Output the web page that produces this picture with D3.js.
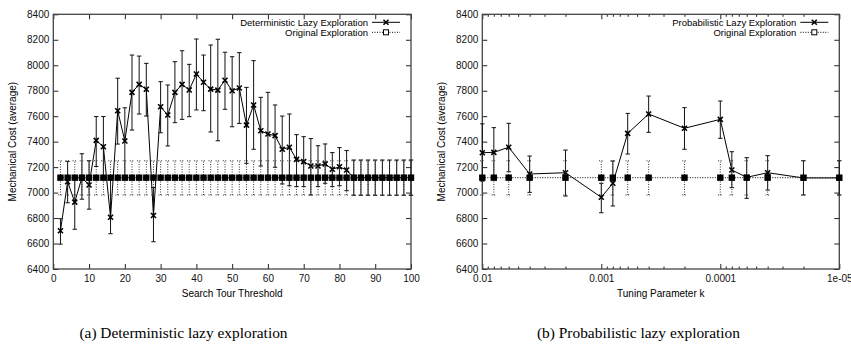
<!DOCTYPE html>
<html>
<head>
	<meta charset="utf-8">
	<title>Lazy exploration: mechanical cost</title>
	<style>
		html, body {
			margin: 0;
			padding: 0;
			background: #fff;
		}
		svg {
			display: block;
			font-family: 'Liberation Sans', Arial, Helvetica, sans-serif;
		}
		.caption {
			font-family: 'Liberation Serif', 'Times New Roman', serif;
			font-size: 15.4px;
		}
		.axis path { display: none; }
		.axis line { stroke: #222; }
		.axis text { font-size: 10px; fill: #111; }
	</style>
</head>
<body>
	<svg id="chart" width="851" height="345"></svg>

	<script src="https://cdnjs.cloudflare.com/ajax/libs/d3/7.8.5/d3.min.js"></script>
	<script>
		// ---- data (a): deterministic lazy exploration ----
		var detX = [2, 4, 6, 8, 10, 12, 14, 16, 18, 20, 22, 24, 26, 28, 30, 32, 34, 36, 38, 40,
			42, 44, 46, 48, 50, 52, 54, 56, 58, 60, 62, 64, 66, 68, 70, 72, 74, 76, 78, 80,
			82, 84, 86, 88, 90, 92, 94, 96, 98, 100];
		var detMean = [6700, 7085, 6925, 7118, 7060, 7410, 7360, 6806, 7643, 7405, 7787, 7850, 7811, 6820, 7674, 7609, 7787, 7850, 7806, 7931,
			7866, 7812, 7805, 7882, 7800, 7821, 7530, 7688, 7486, 7460, 7447, 7340, 7356, 7261, 7243, 7209, 7209, 7225, 7183, 7203,
			7177, 7117, 7117, 7117, 7117, 7117, 7117, 7117, 7117, 7117];
		var detLow = [6595, 6920, 6712, 6948, 6870, 7205, 7112, 6677, 7381, 7127, 7491, 7617, 7601, 6614, 7470, 7366, 7549, 7575, 7596, 7649,
			7643, 7476, 7407, 7654, 7517, 7543, 7230, 7340, 7209, 7125, 7199, 7068, 7054, 7047, 7047, 6981, 7047, 7073, 7047, 7054,
			7015, 6979, 6979, 6979, 6979, 6979, 6979, 6979, 6979, 6979];
		var detHigh = [6795, 7245, 7130, 7305, 7250, 7597, 7597, 7115, 7898, 7666, 8080, 8072, 8015, 7040, 7871, 7845, 8028, 8114, 8007, 8206,
			8080, 8159, 8204, 8102, 8067, 8099, 7826, 8036, 7748, 7787, 7688, 7601, 7617, 7455, 7439, 7424, 7368, 7382, 7314, 7353,
			7330, 7256, 7256, 7256, 7256, 7256, 7256, 7256, 7256, 7256];

		// ---- data (b): probabilistic lazy exploration ----
		var probK = [0.01, 0.008, 0.006, 0.004, 0.002, 0.001, 0.0008, 0.0006, 0.0004, 0.0002,
			0.0001, 0.00008, 0.00006, 0.00004, 0.00002, 0.00001];
		var probMean = [7313, 7316, 7356, 7146, 7156, 6963, 7073, 7465, 7617, 7505, 7575, 7177, 7120, 7156, 7115, 7115];
		var probLow = [7090, 7120, 7164, 7002, 6973, 6842, 6895, 7303, 7473, 7340, 7426, 7039, 6955, 7020, 6981, 6981];
		var probHigh = [7540, 7510, 7544, 7287, 7334, 7073, 7248, 7622, 7758, 7667, 7719, 7321, 7274, 7290, 7250, 7250];

		// ---- original exploration (same at every x) ----
		var origMean = 7117;
		var origLow = 6981;
		var origHigh = 7250;

		// ---- axes ----
		var yTicks = [6400, 6600, 6800, 7000, 7200, 7400, 7600, 7800, 8000, 8200, 8400];
		var linTicks = [0, 10, 20, 30, 40, 50, 60, 70, 80, 90, 100];
		var logTicks = [0.01, 0.001, 0.0001, 0.00001];
		var logTickLabels = ['0.01', '0.001', '0.0001', '1e-05'];

		var svg = d3.select('#chart');
		var plotTop = 14.3, plotBottom = 269;

		function zip(xs, m, lo, hi) {
			return xs.map(function (x, i) { return { x: x, y: m[i], lo: lo[i], hi: hi[i] }; });
		}

		function drawPanel(p) {
			var g = svg.append('g');
			var x = p.x, y = d3.scaleLinear().domain([6400, 8400]).range([plotBottom, plotTop]);
			var x0 = x.range()[0], x1 = x.range()[1];

			// ticks, all four sides, pointing inward
			var xb = d3.axisBottom(x).tickValues(p.ticks).tickSize(-5).tickPadding(6).tickFormat(p.fmt);
			g.append('g').attr('class', 'axis').attr('transform', 'translate(0,' + plotBottom + ')').call(xb);
			g.append('g').attr('class', 'axis').attr('transform', 'translate(0,' + plotTop + ')')
				.call(d3.axisTop(x).tickValues(p.ticks).tickSize(-5).tickFormat(''));
			if (p.minor) {
				g.append('g').attr('class', 'axis').attr('transform', 'translate(0,' + plotBottom + ')')
					.call(d3.axisBottom(x).tickValues(p.minor).tickSize(-2.5).tickFormat(''));
				g.append('g').attr('class', 'axis').attr('transform', 'translate(0,' + plotTop + ')')
					.call(d3.axisTop(x).tickValues(p.minor).tickSize(-2.5).tickFormat(''));
			}
			g.append('g').attr('class', 'axis').attr('transform', 'translate(' + x0 + ',0)')
				.call(d3.axisLeft(y).tickValues(yTicks).tickSize(-5).tickPadding(4).tickFormat(d3.format('d')));
			g.append('g').attr('class', 'axis').attr('transform', 'translate(' + x1 + ',0)')
				.call(d3.axisRight(y).tickValues(yTicks).tickSize(-5).tickFormat(''));

			// frame
			g.append('rect').attr('x', x0).attr('y', plotTop).attr('width', x1 - x0).attr('height', plotBottom - plotTop)
				.attr('fill', 'none').attr('stroke', '#444').attr('stroke-width', 1.3);

			// axis titles
			g.append('text').attr('transform', 'translate(' + (x0 - 37) + ',' + ((plotTop + plotBottom) / 2) + ') rotate(-90)')
				.attr('text-anchor', 'middle').attr('font-size', 10).text('Mechanical Cost (average)');
			g.append('text').attr('x', (x0 + x1) / 2).attr('y', 296.5)
				.attr('text-anchor', 'middle').attr('font-size', 10).text(p.xlabel);

			var cap = 2.2;
			// series 1: lazy exploration, solid, cross markers
			var d = p.data;
			var eb = g.append('g').attr('stroke', '#111').attr('stroke-width', 1);
			eb.selectAll('line.v').data(d).join('line').attr('class', 'v')
				.attr('x1', function (e) { return x(e.x); }).attr('x2', function (e) { return x(e.x); })
				.attr('y1', function (e) { return y(e.lo); }).attr('y2', function (e) { return y(e.hi); });
			['lo', 'hi'].forEach(function (k) {
				eb.selectAll('line.' + k).data(d).join('line').attr('class', k)
					.attr('x1', function (e) { return x(e.x) - cap; }).attr('x2', function (e) { return x(e.x) + cap; })
					.attr('y1', function (e) { return y(e[k]); }).attr('y2', function (e) { return y(e[k]); });
			});
			var line = d3.line().x(function (e) { return x(e.x); }).y(function (e) { return y(e.y); });
			g.append('path').attr('d', line(d)).attr('fill', 'none').attr('stroke', '#000').attr('stroke-width', 1);
			var cross = function (sel, cx, cy) {
				sel.append('path').attr('d', 'M' + (cx - 2.5) + ',' + (cy - 2.5) + 'l5,5M' + (cx - 2.5) + ',' + (cy + 2.5) + 'l5,-5')
					.attr('stroke', '#000').attr('stroke-width', 1.6);
			};
			d.forEach(function (e) { cross(g, x(e.x), y(e.y)); });

			// series 2: original exploration, dotted, square markers
			var o = d.map(function (e) { return { x: e.x, y: origMean, lo: origLow, hi: origHigh }; });
			var ob = g.append('g').attr('stroke', '#333').attr('stroke-width', 1).attr('stroke-dasharray', '1,1.5');
			ob.selectAll('line.v').data(o).join('line').attr('class', 'v')
				.attr('x1', function (e) { return x(e.x); }).attr('x2', function (e) { return x(e.x); })
				.attr('y1', function (e) { return y(e.lo); }).attr('y2', function (e) { return y(e.hi); });
			['lo', 'hi'].forEach(function (k) {
				ob.selectAll('line.' + k).data(o).join('line').attr('class', k)
					.attr('x1', function (e) { return x(e.x) - cap; }).attr('x2', function (e) { return x(e.x) + cap; })
					.attr('y1', function (e) { return y(e[k]); }).attr('y2', function (e) { return y(e[k]); });
			});
			g.append('path').attr('d', line(o)).attr('fill', 'none').attr('stroke', '#000')
				.attr('stroke-width', 1).attr('stroke-dasharray', '1,1.5');
			g.selectAll('rect.sq').data(o).join('rect').attr('class', 'sq')
				.attr('x', function (e) { return x(e.x) - 3.2; }).attr('y', function (e) { return y(e.y) - 3.2; })
				.attr('width', 6.4).attr('height', 6.4).attr('fill', '#000');

			// legend, top right
			var lx = x1 - 43, ly = 22.3;
			g.append('text').attr('x', lx).attr('y', ly + 3.4).attr('text-anchor', 'end').attr('font-size', 9.5).text(p.name);
			g.append('line').attr('x1', lx + 4).attr('x2', lx + 32).attr('y1', ly).attr('y2', ly).attr('stroke', '#000');
			cross(g, lx + 18, ly);
			g.append('text').attr('x', lx).attr('y', ly + 13.4).attr('text-anchor', 'end').attr('font-size', 9.5).text('Original Exploration');
			g.append('line').attr('x1', lx + 4).attr('x2', lx + 32).attr('y1', ly + 10).attr('y2', ly + 10)
				.attr('stroke', '#000').attr('stroke-dasharray', '1,1.5');
			g.append('rect').attr('x', lx + 15.5).attr('y', ly + 7.5).attr('width', 5).attr('height', 5)
				.attr('fill', '#fff').attr('stroke', '#000');

			// caption
			svg.append('text').attr('class', 'caption').attr('x', p.capX).attr('y', 337.5)
				.attr('text-anchor', 'middle').text(p.caption);
		}

		var xDet = d3.scaleLinear().domain([0, 100]).range([53.3, 411]);
		drawPanel({
			x: xDet, ticks: linTicks, fmt: d3.format('d'),
			data: zip(detX, detMean, detLow, detHigh),
			name: 'Deterministic Lazy Exploration', xlabel: 'Search Tour Threshold',
			caption: '(a) Deterministic lazy exploration', capX: 183.5
		});

		var xProb = d3.scaleLog().domain([0.01, 0.00001]).range([482.3, 839.3]);
		var minor = xProb.ticks().filter(function (t) { return logTicks.indexOf(t) < 0; });
		drawPanel({
			x: xProb, ticks: logTicks, minor: minor,
			fmt: function (t) { return logTickLabels[logTicks.indexOf(t)]; },
			data: zip(probK, probMean, probLow, probHigh),
			name: 'Probabilistic Lazy Exploration', xlabel: 'Tuning Parameter k',
			caption: '(b) Probabilistic lazy exploration', capX: 638.5
		});
	</script>
</body>
</html>
